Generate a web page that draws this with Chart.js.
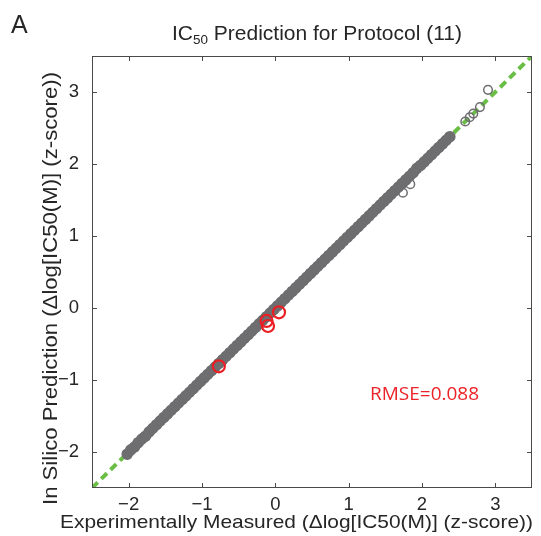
<!DOCTYPE html>
<html>
<head>
<meta charset="utf-8">
<script src="https://cdn.jsdelivr.net/npm/chart.js@4"></script>
<style>
  html, body { margin: 0; padding: 0; background: #fff; }
  #wrap { width: 541px; height: 536px; }
</style>
</head>
<body>
<div id="wrap"><canvas id="grafico" width="541" height="536"></canvas></div>
<script>
// eixos
const tickVals = [-2, -1, 0, 1, 2, 3];
const eixoMin = -2.5;
const eixoMax = 3.5;

// faixa densa de pontos (medido x previsto)
const faixaX = [-2.02,-1.97,-1.92,-1.87,-1.82,-1.77,-1.72,-1.67,-1.62,-1.57,
  -1.52,-1.47,-1.42,-1.37,-1.32,-1.27,-1.22,-1.17,-1.12,-1.07,
  -1.02,-0.97,-0.92,-0.87,-0.82,-0.77,-0.72,-0.67,-0.62,-0.57,
  -0.52,-0.47,-0.42,-0.37,-0.32,-0.27,-0.22,-0.17,-0.12,-0.07,
  -0.02,0.03,0.08,0.13,0.18,0.23,0.28,0.33,0.38,0.43,
  0.48,0.53,0.58,0.63,0.68,0.73,0.78,0.83,0.88,0.93,
  0.98,1.03,1.08,1.13,1.18,1.23,1.28,1.33,1.38,1.43,
  1.48,1.53,1.58,1.63,1.68,1.73,1.78,1.83,1.88,1.93,
  1.98,2.03,2.08,2.13,2.18,2.23,2.28,2.33,2.38];
const faixaY = [-2.03,-1.97,-1.93,-1.87,-1.82,-1.78,-1.72,-1.67,-1.62,-1.57,
  -1.52,-1.47,-1.42,-1.37,-1.32,-1.27,-1.22,-1.17,-1.12,-1.07,
  -1.02,-0.97,-0.92,-0.87,-0.82,-0.77,-0.72,-0.67,-0.62,-0.57,
  -0.52,-0.47,-0.42,-0.37,-0.32,-0.27,-0.22,-0.17,-0.12,-0.07,
  -0.02,0.03,0.08,0.13,0.18,0.23,0.28,0.33,0.38,0.43,
  0.48,0.53,0.58,0.63,0.68,0.73,0.78,0.83,0.88,0.93,
  0.98,1.03,1.08,1.13,1.18,1.23,1.28,1.33,1.38,1.43,
  1.48,1.53,1.58,1.63,1.68,1.73,1.78,1.83,1.88,1.94,
  1.98,2.03,2.08,2.13,2.18,2.23,2.28,2.33,2.38];

// pontos isolados (cinza, vazados)
const soltosX = [1.74, 1.84, 2.59, 2.65, 2.70, 2.79, 2.90];
const soltosY = [1.60, 1.72, 2.59, 2.65, 2.70, 2.79, 3.03];

// pontos destacados em vermelho
const destaqueX = [-0.77, -0.12, -0.10, 0.05];
const destaqueY = [-0.81, -0.18, -0.25, -0.06];

// linha de referencia y = x
const refX = [-2.5, 3.5];
const refY = [-2.5, 3.5];

const rmseTexto = 'RMSE=0.088';

const cinza = 'rgb(110,110,112)';
const fonte = '"Liberation Sans", Arial, sans-serif';

const pares = (xs, ys) => xs.map((x, i) => ({ x: x, y: ys[i] }));

// texto esticado na horizontal ate a largura pedida
function textoLargo(ctx, txt, x, y, largura) {
  const w = ctx.measureText(txt).width;
  ctx.save();
  ctx.translate(x, y);
  ctx.scale(largura / w, 1);
  ctx.fillText(txt, 0, 0);
  ctx.restore();
}

// desenha caixa, ticks para dentro e textos
const moldura = {
  id: 'moldura',
  afterDraw(chart) {
    const ctx = chart.ctx;
    const a = chart.chartArea;
    const sx = chart.scales.x, sy = chart.scales.y;
    ctx.save();
    ctx.strokeStyle = '#4a4a4a';
    ctx.lineWidth = 1;
    ctx.strokeRect(a.left + 0.5, a.top + 0.5, a.right - a.left - 1, a.bottom - a.top - 1);
    ctx.beginPath();
    tickVals.forEach(v => {
      const px = Math.round(sx.getPixelForValue(v)) + 0.5;
      ctx.moveTo(px, a.bottom); ctx.lineTo(px, a.bottom - 5);
      ctx.moveTo(px, a.top); ctx.lineTo(px, a.top + 5);
      const py = Math.round(sy.getPixelForValue(v)) + 0.5;
      ctx.moveTo(a.left, py); ctx.lineTo(a.left + 5, py);
      ctx.moveTo(a.right, py); ctx.lineTo(a.right - 5, py);
    });
    ctx.stroke();

    ctx.fillStyle = '#262626';
    ctx.textBaseline = 'alphabetic';
    // letra do painel
    ctx.font = '25px ' + fonte;
    ctx.textAlign = 'left';
    ctx.fillText('A', 11, 33);

    // titulo com subscrito (IC50)
    const p1 = 'IC', p2 = '50', p3 = ' Prediction for Protocol (11)';
    ctx.font = '19.5px ' + fonte;
    const w1 = ctx.measureText(p1).width, w3 = ctx.measureText(p3).width;
    ctx.font = '12.5px ' + fonte;
    const w2 = ctx.measureText(p2).width;
    const k = 290 / (w1 + w2 + w3);
    ctx.save();
    ctx.translate(172, 39.5);
    ctx.scale(k, 1);
    ctx.font = '19.5px ' + fonte;
    ctx.fillText(p1, 0, 0);
    ctx.fillText(p3, w1 + w2, 0);
    ctx.font = '12.5px ' + fonte;
    ctx.fillText(p2, w1, 4);
    ctx.restore();

    // titulos dos eixos
    ctx.font = '19px ' + fonte;
    ctx.textAlign = 'center';
    textoLargo(ctx, 'Experimentally Measured (\u0394log[IC50(M)] (z-score))', 296.5, 527.5, 473);
    ctx.save();
    ctx.translate(57, 288.5);
    ctx.rotate(-Math.PI / 2);
    ctx.font = '19.5px ' + fonte;
    textoLargo(ctx, 'In Silico Prediction (\u0394log[IC50(M)] (z-score))', 0, 0, 433);
    ctx.restore();

    // RMSE
    ctx.fillStyle = 'rgb(235,35,40)';
    ctx.font = '19px "Open Sans", sans-serif';
    ctx.textAlign = 'left';
    ctx.fillText(rmseTexto, 370, 399.5);
    ctx.restore();
  }
};

const rotulo = v => String(v).replace('-', '\u2212');

const ctx = document.getElementById('grafico').getContext('2d');
new Chart(ctx, {
  type: 'scatter',
  data: {
    datasets: [
      {
        label: 'destaque',
        data: pares(destaqueX, destaqueY),
        pointRadius: 6,
        pointBorderWidth: 2.2,
        pointBorderColor: 'rgb(235,30,35)',
        pointBackgroundColor: 'rgba(0,0,0,0)',
        order: 0
      },
      {
        label: 'soltos',
        data: pares(soltosX, soltosY),
        pointRadius: 4.3,
        pointBorderWidth: 1.5,
        pointBorderColor: cinza,
        pointBackgroundColor: 'rgba(0,0,0,0)',
        order: 1
      },
      {
        label: 'faixa',
        data: pares(faixaX, faixaY),
        showLine: true,
        borderColor: cinza,
        borderWidth: 10,
        borderCapStyle: 'round',
        borderJoinStyle: 'round',
        pointRadius: 5,
        pointBorderWidth: 1.5,
        pointBorderColor: cinza,
        pointBackgroundColor: cinza,
        order: 2
      },
      {
        type: 'line',
        label: 'y=x',
        data: pares(refX, refY),
        borderColor: 'rgb(106,190,70)',
        borderWidth: 4,
        borderDash: [8, 5],
        pointRadius: 0,
        fill: false,
        order: 3
      }
    ]
  },
  options: {
    responsive: false,
    animation: false,
    events: [],
    layout: { padding: { top: 56, right: 9, left: 0, bottom: 0 } },
    plugins: { legend: { display: false }, tooltip: { enabled: false } },
    scales: {
      x: {
        type: 'linear',
        min: eixoMin, max: eixoMax,
        afterBuildTicks: s => { s.ticks = tickVals.map(v => ({ value: v })); },
        afterFit: s => { s.height = 48; },
        grid: { display: false, drawTicks: false },
        border: { display: false },
        ticks: { padding: 6, color: '#262626', font: { family: fonte, size: 18.5 }, callback: rotulo }
      },
      y: {
        type: 'linear',
        min: eixoMin, max: eixoMax,
        afterBuildTicks: s => { s.ticks = tickVals.map(v => ({ value: v })); },
        afterFit: s => { s.width = 92; },
        grid: { display: false, drawTicks: false },
        border: { display: false },
        ticks: { padding: 13, color: '#262626', font: { family: fonte, size: 18.5 }, callback: rotulo }
      }
    }
  },
  plugins: [moldura]
});
</script>
</body>
</html>
